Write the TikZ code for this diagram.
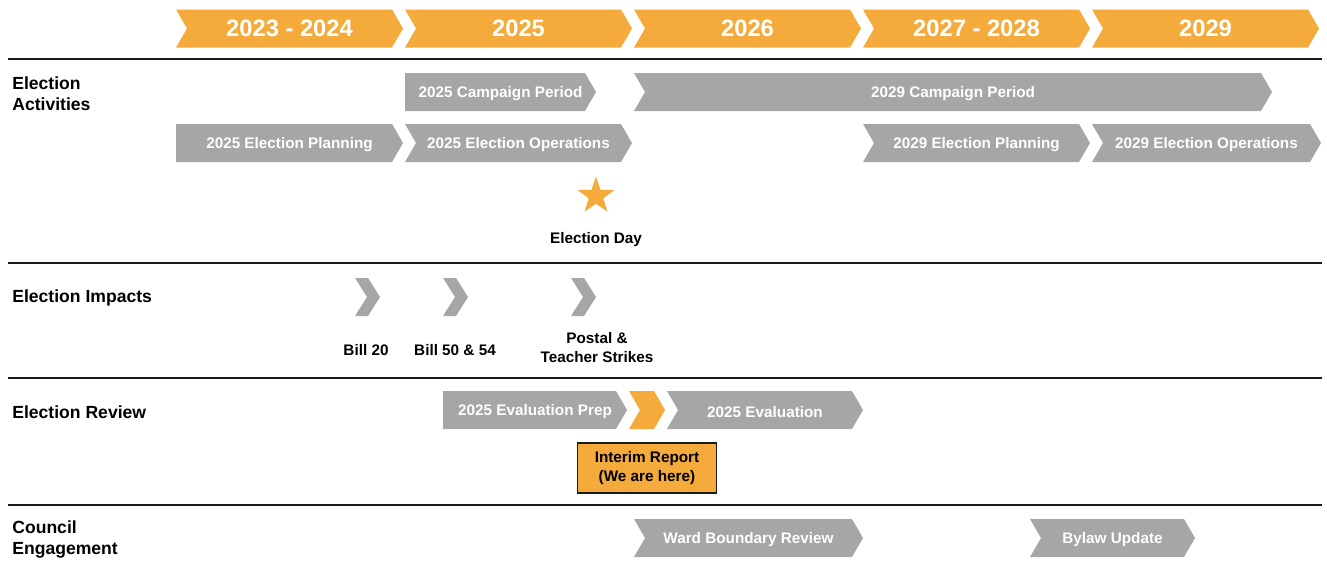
\documentclass[tikz,border=0pt]{standalone}
\usepackage{fontspec}
\setmainfont{Liberation Sans}
\usetikzlibrary{shapes.geometric, positioning}
\definecolor{tlorange}{HTML}{F4AB3C}
\definecolor{tlgray}{HTML}{A6A6A6}
\definecolor{tlline}{HTML}{1A1A1A}

\tikzset{
  barlabel/.style={text=white, font=\bfseries\fontsize{8.7}{10.4}\selectfont, inner sep=0pt, yshift=-1pt},
  yearlabel/.style={text=white, font=\bfseries\fontsize{13.5}{16}\selectfont, inner sep=0pt},
  rowlabel/.style={anchor=west, align=left, font=\bfseries\fontsize{10}{12}\selectfont, inner sep=0pt, yshift=-1pt},
  notelabel/.style={align=center, font=\bfseries\fontsize{8.7}{10.8}\selectfont, inner sep=0pt, yshift=-1pt},
  rowline/.style={line width=1.2pt, tlline},
}

% [label style] name, left x, tip x, middle y, notch depth, fill, text
\newcommand{\chevbar}[8][barlabel]{%
  \fill[#7] (#3,#5-19) -- (#4-11,#5-19) -- (#4,#5) -- (#4-11,#5+19)
    -- (#3,#5+19) -- (#3+#6,#5) -- cycle;
  \node[#1] (#2) at ({(#3+#4)/2},#5) {#8};}

\begin{document}
\begin{tikzpicture}[x=0.02cm, y=-0.02cm]
  \useasboundingbox (0,0) rectangle (1327,565);

  % Years along the top
  \foreach \yr [count=\k from 0] in {2023 - 2024, 2025, 2026, 2027 - 2028, 2029} {
    \pgfmathsetmacro\xl{176+229*\k}
    \chevbar[yearlabel]{year\k}{\xl}{\xl+227}{28.5}{11}{tlorange}{\yr}
  }

  % Row separators
  \foreach \ry in {59, 263, 378, 505}
    \draw[rowline] (8,\ry) -- (1322,\ry);

  % Row headings
  \node[rowlabel] (rowact) at (12,92) {Election\\Activities};
  \node[rowlabel] (rowimp) at (12,296) {Election Impacts};
  \node[rowlabel] (rowrev) at (12,410) {Election Review};
  \node[rowlabel] (rowcou) at (12,538) {Council\\Engagement};

  % Election activities
  \chevbar{campA}{405}{596}{92}{0}{tlgray}{2025 Campaign Period}
  \chevbar{campB}{634}{1272}{92}{11}{tlgray}{2029 Campaign Period}
  \chevbar{planA}{176}{403}{143}{0}{tlgray}{2025 Election Planning}
  \chevbar{opsA}{405}{632}{143}{11}{tlgray}{2025 Election Operations}
  \chevbar{planB}{863}{1090}{143}{11}{tlgray}{2029 Election Planning}
  \chevbar{opsB}{1092}{1321}{143}{11}{tlgray}{2029 Election Operations}

  \node[star, star points=5, star point ratio=2.5, fill=tlorange, inner sep=0pt,
        minimum size=22pt] (star) at (596,196) {};
  \node[notelabel] (elecday) at (596,238) {Election Day};

  % Election impacts
  \foreach \tx in {380, 468, 596}
    \fill[tlgray] (\tx-25,278) -- (\tx-12,278) -- (\tx,297) -- (\tx-12,316)
      -- (\tx-25,316) -- (\tx-13,297) -- cycle;
  \node[notelabel] (bill20) at (366,348) {Bill 20};
  \node[notelabel] (bill50) at (455,348) {Bill 50 \& 54};
  \node[notelabel] (strikes) at (597,346) {Postal \&\\Teacher Strikes};

  % Election review
  \chevbar{evalprep}{443}{627}{410}{0}{tlgray}{2025 Evaluation Prep}
  \chevbar{evalnow}{629}{665}{410}{11}{tlorange}{}
  \chevbar{evaluation}{667}{863}{410}{11}{tlgray}{2025 Evaluation}
  \node[notelabel, yshift=1pt, draw=tlline, line width=0.8pt, fill=tlorange,
        minimum width=79.4pt, minimum height=28.3pt] (interim) at (647,468)
        {Interim Report\\(We are here)};

  % Council engagement
  \chevbar{ward}{634}{863}{538}{11}{tlgray}{Ward Boundary Review}
  \chevbar{bylaw}{1030}{1195}{538}{11}{tlgray}{Bylaw Update}
\end{tikzpicture}
\end{document}
